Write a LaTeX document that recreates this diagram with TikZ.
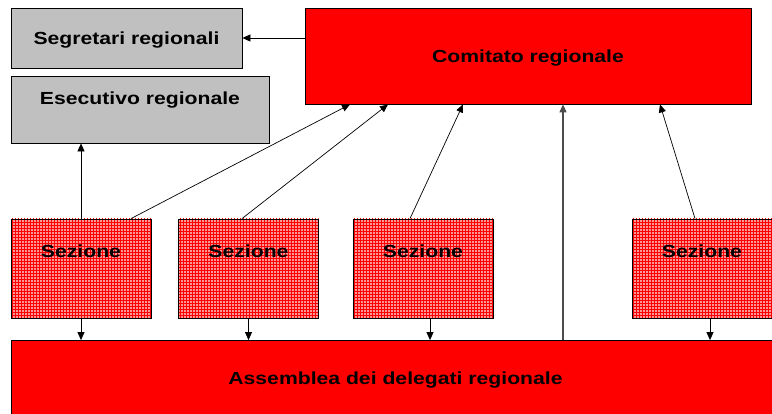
\documentclass[tikz,border=0pt]{standalone}
\usepackage{fontspec}
\setmainfont{Liberation Sans}[FakeStretch=1.21]
\usetikzlibrary{shapes,patterns,arrows.meta}
\definecolor{boxgray}{RGB}{192,192,192}
\definecolor{boxred}{RGB}{255,0,0}
\definecolor{sezred}{RGB}{255,150,150}

\begin{document}
\begin{tikzpicture}[x=1pt,y=-1pt,>={Triangle[length=8pt,width=7pt]},
  box/.style={shape=rectangle,draw=black,line width=0.8pt,inner sep=0pt,align=center,font=\fontsize{17.5}{20}\selectfont\bfseries,text height=13pt,text depth=0pt},
  greybox/.style={box,fill=boxgray},
  redbox/.style={box,fill=boxred},
  sezbox/.style={box,preaction={fill=sezred},pattern=grid,pattern color=boxred,minimum width=140pt,minimum height=99pt,text depth=34.9pt},
  arr/.style={->,draw=black,line width=0.7pt}]
\clip (0,0) rectangle (772,414);
\node[greybox,minimum width=231pt,minimum height=60pt] (segr) at (126.5,38) {Segretari regionali};
\node[greybox,minimum width=258pt,minimum height=67pt,text depth=23.5pt] (esec) at (140,109.5) {Esecutivo regionale};
\node[redbox,minimum width=446pt,minimum height=96pt] (comi) at (528,56) {Comitato regionale};
\node[sezbox] (sez1) at (81,268.5) {Sezione};
\node[sezbox] (sez2) at (248.5,268.5) {Sezione};
\node[sezbox] (sez3) at (423,268.5) {Sezione};
\node[sezbox] (sez4) at (702,268.5) {Sezione};
\node[redbox,minimum width=769pt,minimum height=75pt] (asse) at (395.5,378) {Assemblea dei delegati regionale};

\draw [arr] (comi.west |- segr.east) -- (segr.east);
\draw [arr] (sez1.north) -- (sez1.north |- esec.south);
\draw [arr] ([xshift=50pt]sez1.north) -- ([xshift=-178pt]comi.south);
\draw [arr] ([xshift=-6.5pt]sez2.north) -- ([xshift=-140pt]comi.south);
\draw [arr] ([xshift=-13pt]sez3.north) -- ([xshift=-65pt]comi.south);
\draw [arr] ([xshift=-7pt]sez4.north) -- ([xshift=132pt]comi.south);
\draw [arr,draw=black!70,line width=1.2pt] ([xshift=35pt]comi.south |- asse.north) -- ([xshift=35pt]comi.south);
\draw [arr] (sez1.south) -- (sez1.south |- asse.north);
\draw [arr] (sez2.south) -- (sez2.south |- asse.north);
\draw [arr] ([xshift=7pt]sez3.south) -- ([xshift=7pt]sez3.south |- asse.north);
\draw [arr] ([xshift=8pt]sez4.south) -- ([xshift=8pt]sez4.south |- asse.north);
\end{tikzpicture}
\end{document}
